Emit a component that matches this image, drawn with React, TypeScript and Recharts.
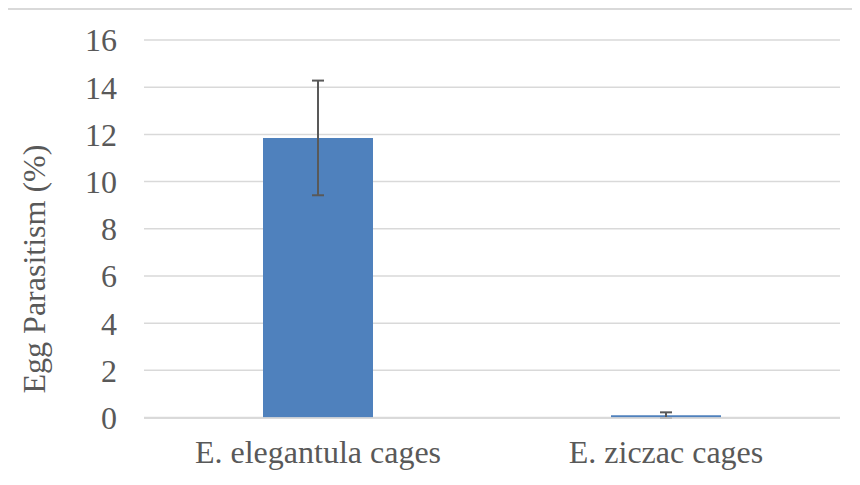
import { BarChart, Bar, XAxis, YAxis, CartesianGrid, ErrorBar, Label } from "recharts";

const categories = ["E. elegantula cages", "E. ziczac cages"];
const parasitism = [11.85, 0.1];
const errors = [2.43, 0.12];
const yTicks = [0, 2, 4, 6, 8, 10, 12, 14, 16];

const data = categories.map((name, i) => ({ name, value: parasitism[i], err: errors[i] }));

const font = "Liberation Serif, Times New Roman, serif";
const textColor = "#595959";
const gridColor = "#d9d9d9";
const tickStyle = { fontSize: 32, fill: textColor, fontFamily: font, style: { fontFamily: font } };

export default function App() {
  return (
    <div
      style={{
        margin: -8,
        width: 860,
        height: 485,
        position: "relative",
        overflow: "hidden",
        background: "#fff",
        fontFamily: font,
      }}
    >
      <div
        style={{
          position: "absolute",
          left: 6,
          top: 8,
          width: 900,
          height: 520,
          border: `2px solid ${gridColor}`,
        }}
      />
      <BarChart
        width={860}
        height={485}
        data={data}
        margin={{ top: 40, right: 20, left: 0, bottom: 0 }}
        style={{ position: "absolute", left: 0, top: 0, fontFamily: font }}
      >
        <CartesianGrid vertical={false} stroke={gridColor} strokeWidth={1.5} />
        <XAxis
          dataKey="name"
          axisLine={{ stroke: gridColor, strokeWidth: 1.5 }}
          tickLine={false}
          tickSize={0}
          tickMargin={22}
          height={67}
          tick={tickStyle}
        />
        <YAxis
          domain={[0, 16]}
          ticks={yTicks}
          width={144}
          axisLine={false}
          tickLine={false}
          tickSize={0}
          tickMargin={27}
          interval={0}
          tick={tickStyle}
        >
          <Label
            value="Egg Parasitism (%)"
            angle={-90}
            position="center"
            dx={-38}
            dy={40}
            style={{ fontSize: 32, fill: textColor, fontFamily: font, textAnchor: "middle" }}
          />
        </YAxis>
        <Bar dataKey="value" fill="#4F81BD" barSize={110} isAnimationActive={false}>
          <ErrorBar dataKey="err" width={6} stroke="#595959" strokeWidth={2} direction="y" />
        </Bar>
      </BarChart>
    </div>
  );
}
